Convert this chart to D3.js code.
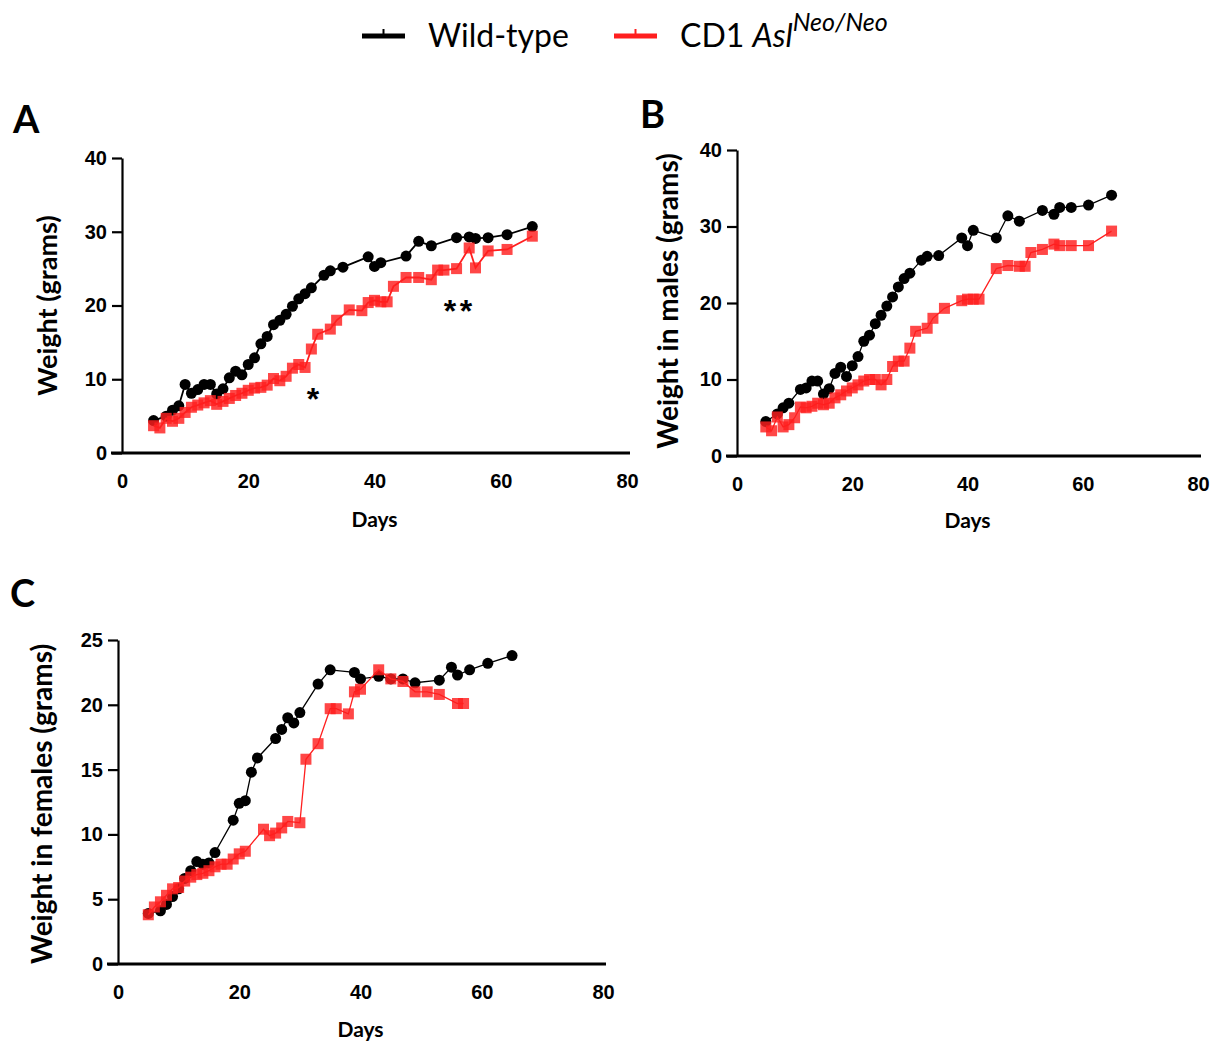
<!DOCTYPE html>
<html>
<head>
<meta charset="utf-8">
<script src="https://cdn.jsdelivr.net/npm/d3@7"></script>
<style>
  body { margin: 0; background: #fff; }
  svg { display: block; }
</style>
</head>
<body>
<svg id="chart" width="1220" height="1044"></svg>
<script>
// shared ticks
var xTicks = [0, 20, 40, 60, 80];
var yTicksAB = [0, 10, 20, 30, 40];
var yTicksC = [0, 5, 10, 15, 20, 25];

// A - all mice
var daysA_wt = [5,7,8,9,10,11,12,13,14,15,16,17,18,19,20,21,22,23,24,25,26,27,28,29,30,32,33,35,39,40,41,45,47,49,53,55,56,58,61,65];
var weightA_wt = [4.4,5.0,5.8,6.4,9.3,8.1,8.6,9.3,9.3,8.0,8.7,10.2,11.1,10.6,12.0,12.9,14.8,15.8,17.4,18.0,18.8,19.9,20.9,21.6,22.4,24.1,24.7,25.2,26.6,25.3,25.8,26.7,28.7,28.1,29.2,29.3,29.1,29.2,29.6,30.7];
var daysA_neo = [5,6,7,8,9,10,11,12,13,14,15,16,17,18,19,20,21,22,23,24,25,26,27,28,29,30,31,33,34,36,38,39,40,41,42,43,45,47,49,50,51,53,55,56,58,61,65];
var weightA_neo = [3.7,3.4,4.7,4.3,4.7,5.5,6.2,6.5,6.8,7.1,6.6,7.0,7.4,7.8,8.1,8.5,8.8,8.9,9.2,10.1,9.8,10.4,11.5,12.0,11.6,14.1,16.1,16.8,18.0,19.4,19.3,20.4,20.7,20.5,20.5,22.6,23.8,23.8,23.5,24.8,24.8,25.0,27.8,25.1,27.4,27.6,29.4];

// B - males
var daysB_wt = [5,7,8,9,11,12,13,14,15,16,17,18,19,20,21,22,23,24,25,26,27,28,29,30,32,33,35,39,40,41,45,47,49,53,55,56,58,61,65];
var weightB_wt = [4.5,5.5,6.3,6.9,8.7,8.9,9.8,9.8,8.1,8.8,10.8,11.6,10.4,11.8,13.0,15.0,15.8,17.3,18.4,19.6,20.8,22.1,23.2,23.9,25.6,26.1,26.2,28.5,27.5,29.5,28.5,31.4,30.7,32.1,31.6,32.5,32.5,32.8,34.1];
var daysB_neo = [5,6,7,8,9,10,11,12,13,14,15,16,17,18,19,20,21,22,23,24,25,26,27,28,29,30,31,33,34,36,39,40,41,42,45,47,49,50,51,53,55,56,58,61,65];
var weightB_neo = [3.8,3.3,5.1,3.8,4.1,5.0,6.4,6.3,6.5,6.9,6.7,6.9,7.6,8.0,8.5,8.9,9.3,9.8,10.0,10.0,9.3,10.0,11.7,12.4,12.4,14.1,16.3,16.7,18.0,19.3,20.3,20.5,20.5,20.5,24.5,24.9,24.8,24.8,26.6,27.0,27.7,27.5,27.5,27.5,29.4];

// C - females
var daysC_wt = [5,7,8,9,10,11,12,13,14,15,16,19,20,21,22,23,26,27,28,29,30,33,35,39,40,43,45,47,49,53,55,56,58,61,65];
var weightC_wt = [3.9,4.1,4.6,5.2,5.8,6.6,7.2,7.9,7.7,7.8,8.6,11.1,12.4,12.6,14.8,15.9,17.4,18.1,19.0,18.6,19.4,21.6,22.7,22.5,22.0,22.2,22.0,22.0,21.7,21.9,22.9,22.3,22.7,23.2,23.8];
var daysC_neo = [5,6,7,8,9,10,11,12,13,14,15,16,17,18,19,20,21,24,25,26,27,28,30,31,33,35,36,38,39,40,43,45,47,49,51,53,56,57];
var weightC_neo = [3.8,4.4,4.8,5.3,5.8,5.9,6.4,6.7,6.9,7.0,7.2,7.5,7.7,7.7,8.1,8.5,8.7,10.4,9.9,10.1,10.5,11.0,10.9,15.8,17.0,19.7,19.7,19.3,21.0,21.2,22.7,22.0,21.8,21.0,21.0,20.8,20.1,20.1];

var RED = "#ff1f1f";
var tickFont = "'Liberation Sans', Arial, sans-serif";
var labelFont = "Lato, 'Open Sans', sans-serif";

var svg = d3.select("#chart");

function zip(days, wts) {
  return days.map(function(d, i) { return { day: d, w: wts[i] }; });
}

function drawPanel(p) {
  var x = d3.scaleLinear().domain([0, 80]).range([p.left, p.right]);
  var y = d3.scaleLinear().domain([0, p.yMax]).range([p.bottom, p.top]);
  var g = svg.append("g");

  // y axis
  var yAxis = g.append("g")
    .attr("transform", "translate(" + p.left + ",0)")
    .call(d3.axisLeft(y).tickValues(p.yTicks).tickSize(10).tickSizeOuter(0).tickPadding(5));
  yAxis.select(".domain").attr("stroke-width", 2.2);
  yAxis.selectAll(".tick line").attr("stroke-width", 2.2);
  yAxis.selectAll("text").style("font", "bold 20px " + tickFont).attr("fill", "#000");

  // x axis: no tick marks, thick baseline extending left of y axis
  var xAxis = g.append("g")
    .attr("transform", "translate(0," + p.bottom + ")")
    .call(d3.axisBottom(x).tickValues(xTicks).tickSize(0).tickPadding(21));
  xAxis.select(".domain").remove();
  xAxis.selectAll("text").style("font", "bold 20px " + tickFont).attr("fill", "#000");
  g.append("line")
    .attr("x1", p.left - 11).attr("x2", p.right + 3)
    .attr("y1", p.bottom).attr("y2", p.bottom)
    .attr("stroke", "#000").attr("stroke-width", 3.2);

  // titles
  g.append("text")
    .attr("transform", "translate(" + p.yTitleX + "," + ((p.top + p.bottom) / 2 + p.yTitleShift) + ") rotate(-90)")
    .attr("text-anchor", "middle")
    .style("font", "bold " + p.yTitleSize + "px " + labelFont)
    .text(p.yTitle);
  g.append("text")
    .attr("x", x(40)).attr("y", p.bottom + p.daysDy)
    .attr("text-anchor", "middle")
    .style("font", "bold 21px " + labelFont)
    .text("Days");
  g.append("text")
    .attr("x", p.letterX).attr("y", p.letterY)
    .style("font", "bold 38px " + labelFont)
    .text(p.letter);

  var line = d3.line().x(function(d) { return x(d.day); }).y(function(d) { return y(d.w); });

  // wild-type
  var wt = zip(p.wtDays, p.wtW);
  g.append("path").datum(wt).attr("d", line)
    .attr("fill", "none").attr("stroke", "#000").attr("stroke-width", p.lw);
  g.selectAll(".wt").data(wt).enter().append("circle")
    .attr("cx", function(d) { return x(d.day); })
    .attr("cy", function(d) { return y(d.w); })
    .attr("r", 5.5).attr("fill", "#000");

  // mutant
  var neo = zip(p.neoDays, p.neoW);
  g.append("path").datum(neo).attr("d", line)
    .attr("fill", "none").attr("stroke", RED).attr("stroke-width", p.lw);
  g.selectAll(".neo").data(neo).enter().append("rect")
    .attr("x", function(d) { return x(d.day) - 5.5; })
    .attr("y", function(d) { return y(d.w) - 5.5; })
    .attr("width", 11).attr("height", 11)
    .attr("fill", RED).attr("fill-opacity", 0.82);

  return { x: x, y: y, g: g };
}

var A = drawPanel({
  left: 122, right: 627, top: 158, bottom: 453, yMax: 40, yTicks: yTicksAB,
  yTitle: "Weight (grams)", yTitleX: 57, yTitleShift: 0, yTitleSize: 27, daysDy: 74,
  letter: "A", letterX: 13, letterY: 133, lw: 1.8,
  wtDays: daysA_wt, wtW: weightA_wt, neoDays: daysA_neo, neoW: weightA_neo
});
// significance marks
A.g.append("text").attr("x", 313).attr("y", 410).attr("text-anchor", "middle")
  .style("font", "bold 32px " + tickFont).text("*");
A.g.append("text").attr("x", 450).attr("y", 322).attr("text-anchor", "middle")
  .style("font", "bold 32px " + tickFont).text("*");
A.g.append("text").attr("x", 466).attr("y", 322).attr("text-anchor", "middle")
  .style("font", "bold 32px " + tickFont).text("*");

drawPanel({
  left: 737, right: 1198, top: 150, bottom: 456, yMax: 40, yTicks: yTicksAB,
  yTitle: "Weight in males (grams)", yTitleX: 678, yTitleShift: -2, yTitleSize: 28, daysDy: 72,
  letter: "B", letterX: 640, letterY: 128, lw: 1.3,
  wtDays: daysB_wt, wtW: weightB_wt, neoDays: daysB_neo, neoW: weightB_neo
});

drawPanel({
  left: 118, right: 603, top: 640, bottom: 964, yMax: 25, yTicks: yTicksC,
  yTitle: "Weight in females (grams)", yTitleX: 52, yTitleShift: 2, yTitleSize: 28, daysDy: 73,
  letter: "C", letterX: 10, letterY: 607, lw: 1.3,
  wtDays: daysC_wt, wtW: weightC_wt, neoDays: daysC_neo, neoW: weightC_neo
});

// legend
var leg = svg.append("g");
[{ x: 362, color: "#000" }, { x: 614, color: RED }].forEach(function(d) {
  leg.append("line").attr("x1", d.x).attr("x2", d.x + 43).attr("y1", 36).attr("y2", 36)
    .attr("stroke", d.color).attr("stroke-width", 5);
  leg.append("line").attr("x1", d.x + 21.5).attr("x2", d.x + 21.5).attr("y1", 36).attr("y2", 29)
    .attr("stroke", d.color).attr("stroke-width", 2);
});
leg.append("text").attr("x", 428).attr("y", 47)
  .style("font", "32px " + labelFont).text("Wild-type");
var t2 = leg.append("text").attr("x", 680).attr("y", 47).style("font", "32px " + labelFont);
t2.append("tspan").text("CD1 ");
t2.append("tspan").style("font-style", "italic").text("Asl");
t2.append("tspan").style("font-style", "italic").style("font-size", "25px")
  .attr("dy", -16).text("Neo/Neo");
</script>
</body>
</html>
